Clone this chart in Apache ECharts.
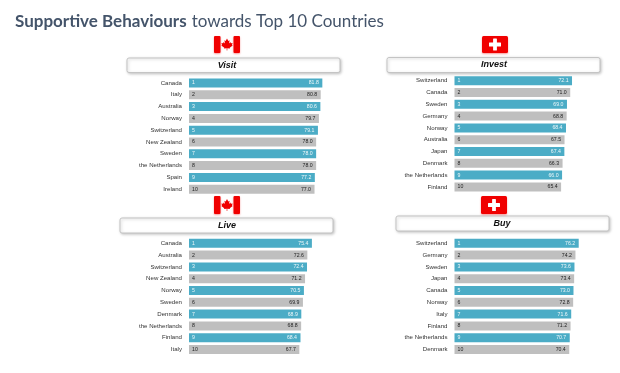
<!DOCTYPE html>
<html><head><meta charset="utf-8">
<style>html,body{margin:0;padding:0;background:#fff}#c{width:620px;height:373px}</style>
<script src="https://cdn.jsdelivr.net/npm/echarts@6/dist/echarts.min.js"></script>
</head><body><div id="c"></div>
<script>
const visitCountries=['Canada','Italy','Australia','Norway','Switzerland','New Zealand','Sweden','the Netherlands','Spain','Ireland'];
const visitValues=[81.8,80.8,80.6,79.7,79.1,78.0,78.0,78.0,77.2,77.0];
const investCountries=['Switzerland','Canada','Sweden','Germany','Norway','Australia','Japan','Denmark','the Netherlands','Finland'];
const investValues=[72.1,71.0,69.0,68.8,68.4,67.5,67.4,66.3,66.0,65.4];
const liveCountries=['Canada','Australia','Switzerland','New Zealand','Norway','Sweden','Denmark','the Netherlands','Finland','Italy'];
const liveValues=[75.4,72.6,72.4,71.2,70.5,69.9,68.9,68.8,68.4,67.7];
const buyCountries=['Switzerland','Germany','Sweden','Japan','Canada','Norway','Italy','Finland','the Netherlands','Denmark'];
const buyValues=[76.2,74.2,73.6,73.4,73.0,72.8,71.6,71.2,70.7,70.4];

const BLUE='#4BACC6',GREY='#BFBFBF',RED='#F00000';
const panels=[
 {name:'Visit',cats:visitCountries,vals:visitValues,left:189,top:77.1,box:[127,58,213,14.5],tx:227,flag:'ca',fx:214,fy:36,fh:17},
 {name:'Invest',cats:investCountries,vals:investValues,left:454.5,top:74.8,box:[387,57.5,213,15],tx:494,flag:'ch',fx:482,fy:36,fh:17},
 {name:'Live',cats:liveCountries,vals:liveValues,left:189,top:237.4,box:[120,218,213,15],tx:227,flag:'ca',fx:214,fy:196,fh:18},
 {name:'Buy',cats:buyCountries,vals:buyValues,left:454.5,top:237.4,box:[396,216,213,15],tx:502,flag:'ch',fx:481,fy:196,fh:18}
];
const grid=[],xAxis=[],yAxis=[],series=[],graphic=[];
const font='"Liberation Sans",Arial,sans-serif';
panels.forEach((p,i)=>{
 grid.push({left:p.left,top:p.top,width:163,height:118,containLabel:false});
 xAxis.push({gridIndex:i,type:'value',min:0,max:100,show:false});
 yAxis.push({gridIndex:i,type:'category',inverse:true,data:p.cats,
  axisLine:{show:false},axisTick:{show:false},
  axisLabel:{interval:0,margin:7,fontSize:6.1,color:'#333',fontFamily:font}});
 series.push({type:'bar',xAxisIndex:i,yAxisIndex:i,barWidth:9,barGap:'-100%',silent:true,
  data:p.vals.map((v,k)=>({value:v,itemStyle:{color:k%2?GREY:BLUE},
   label:{color:k%2?'#222':'rgba(255,255,255,0.9)'}})),
  label:{show:true,position:'insideRight',distance:3.5,fontSize:5.2,fontFamily:font,
   formatter:o=>o.value.toFixed(1)}});
 series.push({type:'bar',xAxisIndex:i,yAxisIndex:i,barWidth:9,barGap:'-100%',silent:true,
  data:p.vals.map((v,k)=>({value:v,itemStyle:{color:'transparent'},
   label:{color:k%2?'#222':'rgba(255,255,255,0.9)'}})),
  label:{show:true,position:'insideLeft',distance:3,fontSize:5.2,fontFamily:font,
   formatter:o=>String(o.dataIndex+1)}});
 graphic.push({type:'rect',shape:{x:p.box[0],y:p.box[1],width:p.box[2],height:p.box[3],r:2},
  style:{fill:'#fff',stroke:'#c4c4c4',lineWidth:1,shadowBlur:3,shadowColor:'rgba(0,0,0,0.22)',shadowOffsetX:1,shadowOffsetY:1}});
 graphic.push({type:'text',x:p.tx,y:p.box[1]+p.box[3]/2,
  style:{text:p.name,fill:'#111',font:'italic bold 9px '+font,textAlign:'center',textVerticalAlign:'middle'}});
 const w=26,h=p.fh,x=p.fx,y=p.fy;
 const sh={shadowBlur:2,shadowColor:'rgba(240,0,0,0.4)',shadowOffsetY:1};
 if(p.flag==='ca'){
  graphic.push({type:'rect',shape:{x:x,y:y,width:w,height:h},style:{fill:'#fff'}});
  graphic.push({type:'rect',shape:{x:x,y:y,width:6.5,height:h,r:1},style:Object.assign({fill:RED},sh)});
  graphic.push({type:'rect',shape:{x:x+w-6.5,y:y,width:6.5,height:h,r:1},style:Object.assign({fill:RED},sh)});
  const cx=x+w/2,cy=y+h/2;
  const pts=[[0,-6],[1.3,-3.6],[2.6,-4.2],[2,-1],[3.4,-2.4],[3.9,-1.2],[5.6,-1.5],[5,0.4],[5.7,0.9],[2.7,3.2],[3.1,4.1],[0.3,3.7],[0.3,6],[-0.3,6],[-0.3,3.7],[-3.1,4.1],[-2.7,3.2],[-5.7,0.9],[-5,0.4],[-5.6,-1.5],[-3.9,-1.2],[-3.4,-2.4],[-2,-1],[-2.6,-4.2],[-1.3,-3.6]];
  graphic.push({type:'polygon',shape:{points:pts.map(q=>[cx+q[0],cy+q[1]])},style:{fill:RED}});
 } else {
  graphic.push({type:'rect',shape:{x:x,y:y,width:w,height:h,r:1.5},style:Object.assign({fill:RED},sh)});
  const cx=x+w/2,cy=y+h/2;
  graphic.push({type:'rect',shape:{x:cx-6,y:cy-1.9,width:12,height:3.8,r:.5},style:{fill:'#fff'}});
  graphic.push({type:'rect',shape:{x:cx-1.9,y:cy-6,width:3.8,height:12,r:.5},style:{fill:'#fff'}});
 }
});
const chart=echarts.init(document.getElementById('c'),null,{renderer:'canvas'});
chart.setOption({
 animation:false,backgroundColor:'#fff',
 title:{left:10,top:8,text:'{b|Supportive Behaviours} {r|towards Top 10 Countries}',
  textStyle:{fontWeight:'normal',rich:{b:{fontFamily:'Lato,"Open Sans",sans-serif',fontSize:17,fontWeight:'bold',color:'#44546A'},
   r:{fontFamily:'Lato,"Open Sans",sans-serif',fontSize:17,fontWeight:'normal',color:'#44546A'}}}},
 grid,xAxis,yAxis,series,graphic
});
</script></body></html>
